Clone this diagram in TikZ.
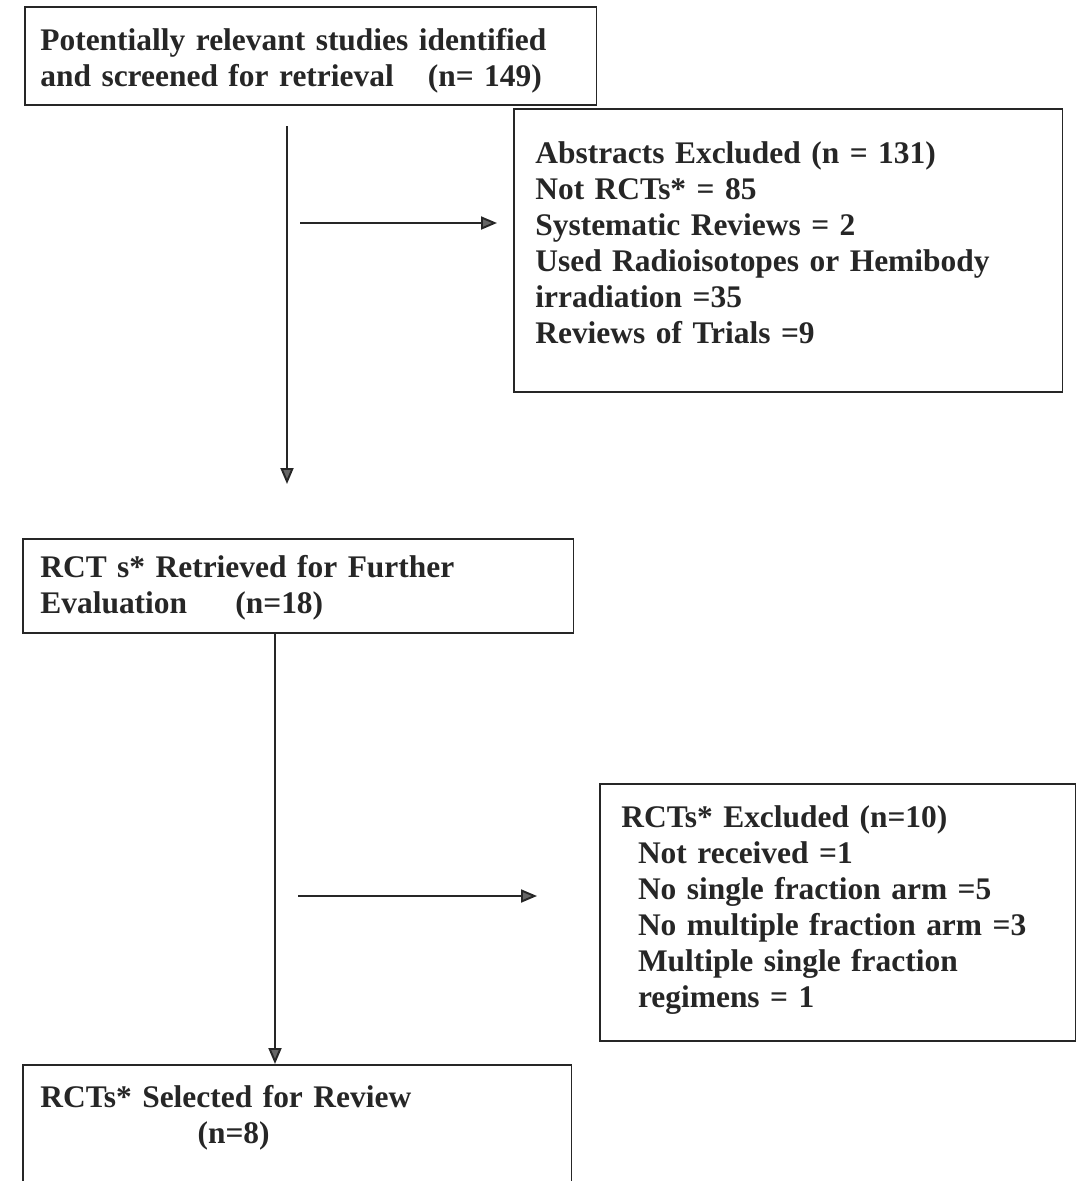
\documentclass[tikz,border=0pt]{standalone}
\usepackage{fontspec}
\setmainfont{Liberation Serif}
\usetikzlibrary{arrows.meta}
\tikzset{
  stage/.style={draw=black!85,line width=0.9pt,anchor=north west,inner sep=0pt},
  stagetext/.style={anchor=base west,inner sep=0pt,align=left,text=black!85,
    font=\bfseries\fontsize{17.9pt}{20.5pt}\selectfont},
  flow/.style={->,line width=1.1pt,draw=black!85}
}
\begin{document}
\begin{tikzpicture}[>={Triangle[length=0.32cm,width=0.26cm,fill=black!60]},x=0.02cm,y=-0.02cm]
		\useasboundingbox (0,0) rectangle (1081,1181);
		\clip (0,0) rectangle (1081,1181);
		% boxes
		\node[stage,minimum width=11.44cm,minimum height=1.96cm] (found) at (24,6) {};
		\node[stage,minimum width=10.98cm,minimum height=5.66cm] (absexcl) at (513,108) {};
		\node[stage,minimum width=11.02cm,minimum height=1.88cm] (retrieved) at (22,538) {};
		\node[stage,minimum width=9.52cm,minimum height=5.14cm] (rctexcl) at (599,783) {};
		\node[stage,minimum width=10.98cm,minimum height=2.8cm] (selected) at (22,1064) {};
		% texts
		\node[stagetext,text width=11cm] (foundtxt) at (40,50)
			{Potentially relevant studies identified\\and screened for retrieval\hspace{0.75em} (n= 149)};
		\node[stagetext,text width=10.5cm] (absexcltxt) at (535,163)
			{Abstracts Excluded (n = 131)\\Not RCTs* = 85\\Systematic Reviews = 2\\Used Radioisotopes or Hemibody\\irradiation =35\\Reviews of Trials =9};
		\node[stagetext,text width=10.6cm] (retrievedtxt) at (40,577)
			{RCT s* Retrieved for Further\\Evaluation\hspace{1.2em} (n=18)};
		\node[stagetext,text width=9cm] (rctexcltxt) at (621,827)
			{RCTs* Excluded (n=10)\\\hspace*{0.53em}Not received =1\\\hspace*{0.53em}No single fraction arm =5\\\hspace*{0.53em}No multiple fraction arm =3\\\hspace*{0.53em}Multiple single fraction\\\hspace*{0.53em}regimens = 1};
		\node[stagetext,text width=10.5cm] (selectedtxt) at (40,1107)
			{RCTs* Selected for Review\\\hspace*{5em}(n=8)};
		% connectors
		\coordinate (down1a) at (287,126);
		\coordinate (down1b) at (287,484);
		\coordinate (side1a) at (300,223);
		\coordinate (side1b) at (497,223);
		\coordinate (spine) at (275,0);
		\coordinate (side2a) at (298,896);
		\coordinate (side2b) at (537,896);
		\draw[flow] (down1a) -- (down1b);
		\draw[flow] (side1a) -- (side1b);
		\draw[flow] (spine |- retrieved.south) -- (spine |- selected.north);
		\draw[flow] (side2a) -- (side2b);
\end{tikzpicture}
\end{document}
